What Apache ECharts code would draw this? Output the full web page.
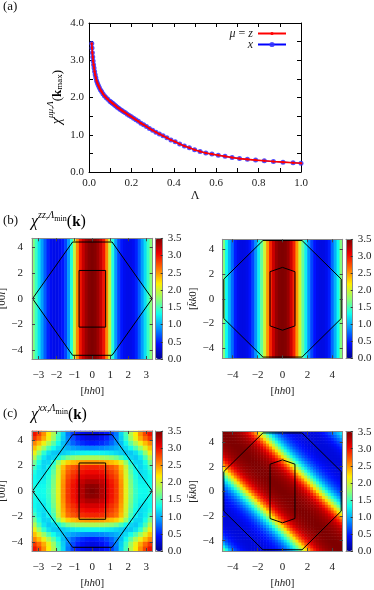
<!DOCTYPE html>
<html>
<head>
<meta charset="utf-8">
<script src="https://cdn.jsdelivr.net/npm/echarts@6/dist/echarts.min.js"></script>
<style>
  html, body { margin: 0; padding: 0; background: #fff; }
  #chart { width: 374px; height: 590px; }
</style>
</head>
<body>
<div id="chart"></div>
<script>
// (a) chi^{mu mu, Lambda}(k_max) against Lambda
const lambda = [0.0130, 0.0144, 0.0159, 0.0176, 0.0195, 0.0216, 0.0238, 0.0264, 0.0292, 0.0323,
  0.0357, 0.0395, 0.0437, 0.0484, 0.0535, 0.0593, 0.0656, 0.0726, 0.0803, 0.0889,
  0.0984, 0.1035, 0.1089, 0.1145, 0.1205, 0.1267, 0.1333, 0.1403, 0.1476, 0.1552,
  0.1633, 0.1718, 0.1807, 0.1901, 0.2000, 0.2104, 0.2213, 0.2328, 0.2449, 0.2577,
  0.2711, 0.2851, 0.3000, 0.3156, 0.3320, 0.3492, 0.3674, 0.3865, 0.4066, 0.4277,
  0.4500, 0.4734, 0.4980, 0.5239, 0.5511, 0.5798, 0.6099, 0.6417, 0.6750, 0.7101,
  0.7471, 0.7859, 0.8268, 0.8698, 0.9150, 0.9626, 1.0000]
const chiZ = [3.45, 3.33, 3.20, 3.09, 2.98, 2.88, 2.79, 2.70, 2.61, 2.53,
  2.45, 2.39, 2.33, 2.27, 2.21, 2.16, 2.10, 2.05, 2.00, 1.95,
  1.90, 1.88, 1.85, 1.83, 1.80, 1.77, 1.74, 1.71, 1.68, 1.65,
  1.62, 1.59, 1.55, 1.52, 1.48, 1.44, 1.40, 1.36, 1.31, 1.27,
  1.22, 1.17, 1.12, 1.07, 1.02, 0.97, 0.92, 0.86, 0.81, 0.75,
  0.70, 0.65, 0.60, 0.55, 0.51, 0.48, 0.45, 0.42, 0.39, 0.36,
  0.34, 0.32, 0.30, 0.28, 0.265, 0.25, 0.235]
// the x curve lies on top of the z curve
const chiX = [3.45, 3.33, 3.20, 3.09, 2.98, 2.88, 2.79, 2.70, 2.61, 2.53,
  2.45, 2.39, 2.33, 2.27, 2.21, 2.16, 2.10, 2.05, 2.00, 1.95,
  1.90, 1.88, 1.85, 1.83, 1.80, 1.77, 1.74, 1.71, 1.68, 1.65,
  1.62, 1.59, 1.55, 1.52, 1.48, 1.44, 1.40, 1.36, 1.31, 1.27,
  1.22, 1.17, 1.12, 1.07, 1.02, 0.97, 0.92, 0.86, 0.81, 0.75,
  0.70, 0.65, 0.60, 0.55, 0.51, 0.48, 0.45, 0.42, 0.39, 0.36,
  0.34, 0.32, 0.30, 0.28, 0.265, 0.25, 0.235]

// (b) left: chi^zz across [hh0] (41 columns, same along [00l])
const profZZ_hhl = [1.72, 1.45, 1.18, 0.93, 0.70, 0.50, 0.39, 0.35, 0.35, 0.38,
  0.46, 0.62, 0.92, 1.38, 1.95, 2.55, 2.98, 3.22, 3.38, 3.47,
  3.50,
  3.47, 3.38, 3.22, 2.98, 2.55, 1.95, 1.38, 0.92, 0.62, 0.46,
  0.38, 0.35, 0.35, 0.39, 0.50, 0.70, 0.93, 1.18, 1.45, 1.72]
// (b) right: chi^zz across [hh0] (41 columns, same along [k̄k0])
const profZZ_hk0 = [1.70, 1.30, 1.00, 0.75, 0.48, 0.37, 0.33, 0.33, 0.36, 0.45,
  0.62, 0.90, 1.25, 1.60, 2.00, 2.50, 2.92, 3.20, 3.40, 3.48,
  3.50,
  3.48, 3.40, 3.20, 2.92, 2.50, 2.00, 1.60, 1.25, 0.90, 0.62,
  0.45, 0.36, 0.33, 0.33, 0.37, 0.48, 0.75, 1.00, 1.30, 1.70]
// (c) left: chi^xx, one quadrant; rows l = 0 .. 4.52, columns h = 0 .. 3.23
const quadXX_hhl = [
  [3.50, 3.45, 3.30, 3.12, 3.00, 2.85, 2.52, 2.08, 1.72, 1.45, 1.32, 1.30, 1.36],
  [3.45, 3.43, 3.29, 3.12, 3.00, 2.85, 2.52, 2.08, 1.70, 1.43, 1.30, 1.29, 1.34],
  [3.32, 3.31, 3.23, 3.08, 2.97, 2.83, 2.50, 2.07, 1.68, 1.41, 1.27, 1.26, 1.31],
  [3.16, 3.16, 3.11, 2.99, 2.89, 2.77, 2.46, 2.04, 1.64, 1.37, 1.22, 1.23, 1.30],
  [3.04, 3.04, 3.00, 2.90, 2.82, 2.70, 2.42, 2.01, 1.58, 1.32, 1.18, 1.22, 1.36],
  [2.92, 2.92, 2.89, 2.81, 2.73, 2.63, 2.36, 1.97, 1.50, 1.27, 1.15, 1.25, 1.48],
  [2.48, 2.48, 2.46, 2.41, 2.36, 2.29, 2.08, 1.75, 1.36, 1.16, 1.15, 1.34, 1.65],
  [1.85, 1.85, 1.83, 1.79, 1.73, 1.65, 1.50, 1.30, 1.15, 1.10, 1.22, 1.50, 1.88],
  [1.28, 1.28, 1.27, 1.25, 1.22, 1.17, 1.12, 1.08, 1.10, 1.20, 1.42, 1.75, 2.12],
  [0.82, 0.83, 0.85, 0.89, 0.94, 1.00, 1.08, 1.17, 1.32, 1.52, 1.78, 2.06, 2.35],
  [0.46, 0.48, 0.53, 0.61, 0.72, 0.87, 1.06, 1.30, 1.58, 1.86, 2.12, 2.36, 2.55],
  [0.32, 0.34, 0.40, 0.50, 0.64, 0.84, 1.12, 1.45, 1.80, 2.12, 2.42, 2.66, 2.86],
  [0.28, 0.30, 0.36, 0.46, 0.60, 0.80, 1.15, 1.50, 1.88, 2.18, 2.52, 2.80, 3.00]
]
// (c) right: chi^xx along h+k, from bottom-left corner (-9.42) to top-right (+9.42)
const profXX_hk0 = [1.60, 1.28, 1.00, 0.78, 0.62, 0.52, 0.44, 0.38, 0.34, 0.31,
  0.30, 0.29, 0.29, 0.30, 0.31, 0.33, 0.36, 0.40, 0.45, 0.51,
  0.59, 0.69, 0.82, 0.98, 1.17, 1.40, 1.66, 1.95, 2.24, 2.52,
  2.76, 2.97, 3.13, 3.25, 3.33, 3.39, 3.43, 3.46, 3.48, 3.50,
  3.50,
  3.50, 3.48, 3.46, 3.43, 3.39, 3.33, 3.25, 3.13, 2.97, 2.76,
  2.52, 2.24, 1.95, 1.66, 1.40, 1.17, 0.98, 0.82, 0.69, 0.59,
  0.51, 0.45, 0.40, 0.36, 0.33, 0.31, 0.30, 0.29, 0.29, 0.30,
  0.31, 0.34, 0.38, 0.44, 0.52, 0.62, 0.74, 0.88, 1.03, 1.18]

// zone boundaries drawn on the maps
const bzHHL = [[-3.33, 0], [-1.1, 4.42], [1.1, 4.42], [3.33, 0], [1.1, -4.42], [-1.1, -4.42], [-3.33, 0]]
const innerHHL = [[-0.74, 2.2], [0.74, 2.2], [0.74, -2.22], [-0.74, -2.22], [-0.74, 2.2]]
const bzHK0 = [[-1.57, 4.73], [1.57, 4.73], [4.71, 1.6], [4.71, -1.6], [1.57, -4.73], [-1.57, -4.73],
  [-4.71, -1.6], [-4.71, 1.6], [-1.57, 4.73]]
const innerHK0 = [[0, 2.55], [1.0, 2.2], [1.0, -2.2], [0, -2.55], [-1.0, -2.2], [-1.0, 2.2], [0, 2.55]]

const ticksH = [-3, -2, -1, 0, 1, 2, 3]
const ticksEven = [-4, -2, 0, 2, 4]

const FONT = 'Liberation Serif'
const jet = ['#000090', '#000fff', '#0090ff', '#0fffee', '#90ff70', '#ffee00', '#ff7000', '#ee0000', '#7f0000']
const TXT = '#222'
const lab = { fontFamily: FONT, fontSize: 11, color: TXT }
const minus = v => String(v).replace('-', '\u2212')

const grid = []
const xAxis = []
const yAxis = []
const series = []
const visualMap = []

// ---- (a) ----
grid.push({ left: 89, top: 23, width: 212, height: 149, outerBoundsMode: 'none' })
const axA = {
  gridIndex: 0, type: 'value', splitLine: { show: false },
  axisLine: { show: true, onZero: false, lineStyle: { color: '#000', width: 1 } },
  axisTick: { show: true, inside: true, length: 4, lineStyle: { color: '#000' } },
  minorTick: { show: true, splitNumber: 2, length: 4, lineStyle: { color: '#000' } }
}
xAxis.push(Object.assign({}, axA, {
  position: 'bottom', min: 0, max: 1, interval: 0.2,
  axisLabel: Object.assign({ formatter: v => v.toFixed(1), margin: 6 }, lab),
  name: 'Λ', nameLocation: 'middle', nameGap: 18, nameTextStyle: { fontFamily: FONT, fontSize: 12, color: TXT }
}))
xAxis.push(Object.assign({}, axA, { position: 'top', min: 0, max: 1, interval: 0.2, axisLabel: { show: false } }))
yAxis.push(Object.assign({}, axA, {
  position: 'left', min: 0, max: 4, interval: 1,
  axisLabel: Object.assign({ formatter: v => v.toFixed(1), margin: 5 }, lab)
}))
yAxis.push(Object.assign({}, axA, { position: 'right', min: 0, max: 4, interval: 1, axisLabel: { show: false } }))

series.push({
  name: 'x', type: 'line', xAxisIndex: 0, yAxisIndex: 0,
  data: lambda.map((l, i) => [l, chiX[i]]),
  symbol: 'circle', symbolSize: 5,
  itemStyle: { color: 'rgba(50,50,255,0.85)' },
  lineStyle: { color: '#0000ff', width: 1 }, z: 3
})
series.push({
  name: 'z', type: 'line', xAxisIndex: 0, yAxisIndex: 0,
  data: lambda.map((l, i) => [l, chiZ[i]]),
  symbol: 'circle', symbolSize: 2.5,
  itemStyle: { color: '#ff0000' },
  lineStyle: { color: '#ff0000', width: 1.6 }, z: 4
})

// ---- maps ----
function stripeCells(prof) { return prof.map((v, i) => [i, 0, v]) }
function quadCells(q) {
  const n = q[0].length - 1, m = q.length - 1, out = []
  for (let j = -m; j <= m; j++) for (let i = -n; i <= n; i++) out.push([i + n, j + m, q[Math.abs(j)][Math.abs(i)]])
  return out
}
function diagCells(prof) {
  const n = (prof.length + 1) / 2, out = []
  for (let j = 0; j < n; j++) for (let i = 0; i < n; i++) out.push([i, j, prof[i + j]])
  return out
}
const idx = n => Array.from({ length: n }, (_, i) => String(i))

function addMap(p) {
  // heat cells on a hidden category grid
  const gh = grid.length
  grid.push({ left: p.x, top: p.y, width: p.w, height: p.h, outerBoundsMode: 'none' })
  const xi = xAxis.length, yi = yAxis.length
  xAxis.push({ gridIndex: gh, type: 'category', data: idx(p.nx), show: false, boundaryGap: true })
  yAxis.push({ gridIndex: gh, type: 'category', data: idx(p.ny), show: false, boundaryGap: true })
  series.push({ type: 'heatmap', xAxisIndex: xi, yAxisIndex: yi, data: p.cells, progressive: 0, z: 1, silent: true })
  visualMap.push({
    type: 'continuous', min: 0, max: 3.5, seriesIndex: series.length - 1,
    inRange: { color: jet }, calculable: false, hoverLink: false,
    orient: 'vertical', itemWidth: p.cb[2], itemHeight: p.cb[3],
    left: p.cb[0], top: p.cb[1], padding: 0, text: null
  })

  // value axes on top, with the zone outlines
  const go = grid.length
  grid.push({ left: p.x, top: p.y, width: p.w, height: p.h, outerBoundsMode: 'none' })
  const ax = {
    gridIndex: go, type: 'value', z: 10, splitLine: { show: false },
    axisLine: { show: true, onZero: false, lineStyle: { color: '#8a8a8a', width: 1 } }
  }
  const tk = vals => ({ show: true, inside: true, length: 3, customValues: vals, lineStyle: { color: '#444' } })
  const xo = xAxis.length, yo = yAxis.length
  xAxis.push(Object.assign({}, ax, {
    position: 'bottom', min: -p.xr, max: p.xr, axisTick: tk(p.xt),
    axisLabel: Object.assign({ customValues: p.xt, formatter: minus, margin: 11 }, lab),
    name: '[{i|hh}0]', nameLocation: 'middle', nameGap: 27,
    nameTextStyle: Object.assign({ rich: { i: Object.assign({ fontStyle: 'italic' }, lab) } }, lab)
  }))
  xAxis.push(Object.assign({}, ax, { position: 'top', min: -p.xr, max: p.xr, axisTick: tk(p.xt), axisLabel: { show: false } }))
  yAxis.push(Object.assign({}, ax, {
    position: 'left', min: -p.yr, max: p.yr, axisTick: tk(p.yt),
    axisLabel: Object.assign({ customValues: p.yt, formatter: minus, margin: p.ym }, lab),
    name: p.yname, nameLocation: 'middle', nameGap: 18,
    nameTextStyle: Object.assign({ rich: { i: Object.assign({ fontStyle: 'italic' }, lab) } }, lab)
  }))
  yAxis.push(Object.assign({}, ax, { position: 'right', min: -p.yr, max: p.yr, axisTick: tk(p.yt), axisLabel: { show: false } }))
  p.polys.forEach(poly => series.push({
    type: 'line', xAxisIndex: xo, yAxisIndex: yo, data: poly, symbol: 'none', silent: true,
    lineStyle: { color: '#000', width: 1 }, z: 5
  }))

  // colour bar scale
  const gc = grid.length
  grid.push({ left: p.cb[0], top: p.cb[1], width: p.cb[2], height: p.cb[3], outerBoundsMode: 'none' })
  const cax = {
    gridIndex: gc, type: 'value', z: 10, splitLine: { show: false },
    axisLine: { show: true, onZero: false, lineStyle: { color: '#8a8a8a', width: 1 } }
  }
  xAxis.push(Object.assign({}, cax, { position: 'bottom', min: 0, max: 1, axisTick: { show: false }, axisLabel: { show: false } }))
  xAxis.push(Object.assign({}, cax, { position: 'top', min: 0, max: 1, axisTick: { show: false }, axisLabel: { show: false } }))
  yAxis.push(Object.assign({}, cax, {
    position: 'right', min: 0, max: 3.5, interval: 0.5,
    axisTick: { show: true, inside: true, length: 2, lineStyle: { color: '#333' } },
    axisLabel: Object.assign({ formatter: v => v.toFixed(1), margin: 5 }, lab)
  }))
  yAxis.push(Object.assign({}, cax, { position: 'left', min: 0, max: 3.5, axisTick: { show: false }, axisLabel: { show: false } }))
}

const nameHHL = '[00{i|l}]'
const nameHK0 = '[{i|k\u0304k}0]'
addMap({ x: 32, y: 238.3, w: 120.7, h: 120.7, cb: [155.7, 238.3, 7, 120.7], nx: 41, ny: 1,
  cells: stripeCells(profZZ_hhl), xr: 3.36, yr: 4.71, xt: ticksH, yt: ticksEven, ym: 9,
  yname: nameHHL, polys: [bzHHL, innerHHL] })
addMap({ x: 222.3, y: 239.3, w: 120.4, h: 119, cb: [346, 239.3, 6.7, 119], nx: 41, ny: 1,
  cells: stripeCells(profZZ_hk0), xr: 4.83, yr: 4.83, xt: ticksEven, yt: ticksEven, ym: 8,
  yname: nameHK0, polys: [bzHK0, innerHK0] })
addMap({ x: 32, y: 431, w: 120.7, h: 120, cb: [155.7, 431, 7, 120], nx: 25, ny: 25,
  cells: quadCells(quadXX_hhl), xr: 3.36, yr: 4.71, xt: ticksH, yt: ticksEven, ym: 9,
  yname: nameHHL, polys: [bzHHL, innerHHL] })
addMap({ x: 222.3, y: 431.7, w: 120.4, h: 119.3, cb: [346, 431.7, 6.7, 119.3], nx: 41, ny: 41,
  cells: diagCells(profXX_hk0), xr: 4.83, yr: 4.83, xt: ticksEven, yt: ticksEven, ym: 8,
  yname: nameHK0, polys: [bzHK0, innerHK0] })

// ---- labels ----
const titleRich = {
  c: { fontFamily: FONT, fontSize: 16, fontStyle: 'italic', color: '#111', verticalAlign: 'bottom', lineHeight: 20 },
  s: { fontFamily: FONT, fontSize: 10, fontStyle: 'italic', color: '#111', verticalAlign: 'top' },
  m: { fontFamily: FONT, fontSize: 8, color: '#111', verticalAlign: 'top', padding: [5, 0, 0, 0] },
  p: { fontFamily: FONT, fontSize: 16, color: '#111', verticalAlign: 'bottom' },
  k: { fontFamily: FONT, fontSize: 15, fontWeight: 'bold', color: '#111', verticalAlign: 'bottom' }
}
const yRich = {
  c: { fontFamily: FONT, fontSize: 14, fontStyle: 'italic', color: '#111', verticalAlign: 'bottom', lineHeight: 18 },
  s: { fontFamily: FONT, fontSize: 9, fontStyle: 'italic', color: '#111', verticalAlign: 'top' },
  p: { fontFamily: FONT, fontSize: 13, color: '#111', verticalAlign: 'bottom' },
  k: { fontFamily: FONT, fontSize: 13, fontWeight: 'bold', color: '#111', verticalAlign: 'bottom' },
  m: { fontFamily: FONT, fontSize: 9, color: '#111', verticalAlign: 'bottom' }
}
const graphic = [
  { type: 'text', left: 3, top: 0, style: { text: '(a)', font: '13px ' + FONT, fill: '#111' } },
  { type: 'text', x: 55, y: 97, rotation: Math.PI / 2,
    style: { text: '{c|χ}{s|μμ,Λ}{p|(}{k|k}{m|max}{p|)}', rich: yRich, align: 'center', verticalAlign: 'middle' } },
  { type: 'text', left: 3, top: 214, style: { text: '(b)', font: '13px ' + FONT, fill: '#111' } },
  { type: 'text', left: 31, top: 210, style: { text: '{c|χ}{s|zz,Λ}{m|min}{p|(}{k|k}{p|)}', rich: titleRich } },
  { type: 'text', left: 3, top: 407, style: { text: '(c)', font: '13px ' + FONT, fill: '#111' } },
  { type: 'text', left: 31, top: 403, style: { text: '{c|χ}{s|xx,Λ}{m|min}{p|(}{k|k}{p|)}', rich: titleRich } }
]

const legendBase = {
  orient: 'vertical', align: 'right', right: 87, padding: 0, itemWidth: 28, selectedMode: false,
  textStyle: { fontFamily: FONT, fontSize: 12, color: TXT, lineHeight: 11,
    rich: { i: { fontFamily: FONT, fontSize: 12, fontStyle: 'italic', color: TXT } } },
  formatter: n => (n === 'z' ? '{i|μ} = {i|z}' : '{i|x}')
}

const chart = echarts.init(document.getElementById('chart'), null, { renderer: 'canvas' })
chart.setOption({
  animation: false,
  backgroundColor: '#fff',
  grid, xAxis, yAxis, series, visualMap, graphic,
  legend: [
    Object.assign({}, legendBase, { data: ['z'], top: 27.5, itemHeight: 4 }),
    Object.assign({}, legendBase, { data: ['x'], top: 38.5, itemHeight: 6.5 })
  ]
})
</script>
</body>
</html>
